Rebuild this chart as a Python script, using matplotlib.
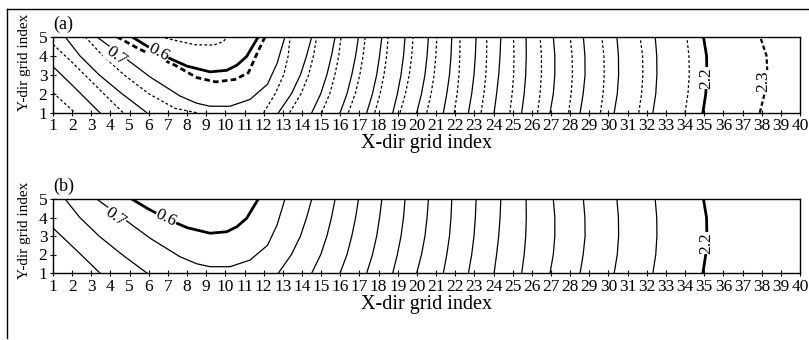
import numpy as np
import matplotlib
matplotlib.use("Agg")
import matplotlib.pyplot as plt
from matplotlib.lines import Line2D

plt.rcParams['font.family'] = ['Liberation Serif', 'DejaVu Serif']

# grid rows (Y-dir index) where the near-vertical contours are read
rows = [1, 2, 3, 4, 5]

# solid contours right of the trough: x crossing at y = 1..5
solid_levels = [0.8, 0.9, 1.0, 1.1, 1.2, 1.3, 1.4, 1.5, 1.6, 1.7, 1.8, 1.9, 2.0, 2.1, 2.2]
solid_x = [
    [12.77, 13.45, 13.92, 14.24, 14.51],
    [14.51, 14.98, 15.30, 15.54, 15.73],
    [15.99, 16.35, 16.60, 16.80, 16.95],
    [17.38, 17.68, 17.90, 18.05, 18.17],
    [18.74, 18.98, 19.17, 19.30, 19.38],
    [19.99, 20.24, 20.42, 20.53, 20.60],
    [21.38, 21.56, 21.70, 21.78, 21.82],
    [22.69, 22.86, 22.98, 23.05, 23.09],
    [24.03, 24.16, 24.27, 24.34, 24.38],
    [25.47, 25.60, 25.68, 25.71, 25.70],
    [26.95, 27.12, 27.20, 27.20, 27.12],
    [28.52, 28.68, 28.78, 28.77, 28.69],
    [30.30, 30.46, 30.53, 30.52, 30.44],
    [32.32, 32.47, 32.53, 32.52, 32.44],
    [34.93, 35.08, 35.14, 35.12, 34.96],
]

# solid contours on the left / trough (x, y point lists)
solid_09_x = [1.0, 2.0, 2.8, 3.45]
solid_09_y = [3.43, 2.45, 1.65, 1.0]
solid_08_x = [1.63, 2.4, 3.4, 4.6, 5.9]
solid_08_y = [5.0, 4.0, 3.0, 2.0, 1.0]
solid_07_x = [3.28, 4.6, 6.07, 7.63, 8.5, 9.2, 10.24, 11.29, 12.2, 12.7, 13.11]
solid_07_y = [5.0, 4.0, 2.88, 1.88, 1.5, 1.34, 1.34, 1.7, 2.5, 3.6, 5.0]
solid_06_x = [5.11, 6.0, 7.0, 8.0, 9.2, 10.07, 10.6, 11.11, 11.72]
solid_06_y = [5.0, 4.45, 3.9, 3.45, 3.15, 3.23, 3.5, 3.96, 5.0]

# dashed contours of panel (a), right part: x crossing at y = 1..5
dashed_levels = [0.8, 0.9, 1.0, 1.1, 1.2, 1.3, 1.4, 1.5, 1.6, 1.7, 1.8, 1.9, 2.0, 2.1, 2.2, 2.3]
dashed_x = [
    [12.00, 12.60, 13.05, 13.28, 13.38],
    [13.35, 13.95, 14.35, 14.60, 14.77],
    [15.03, 15.45, 15.72, 15.92, 16.04],
    [16.42, 16.78, 17.02, 17.19, 17.30],
    [17.80, 18.08, 18.28, 18.42, 18.50],
    [19.12, 19.40, 19.60, 19.73, 19.80],
    [20.51, 20.74, 20.90, 20.99, 21.04],
    [21.95, 22.10, 22.20, 22.24, 22.25],
    [23.35, 23.50, 23.60, 23.64, 23.65],
    [24.85, 24.97, 25.05, 25.07, 25.04],
    [26.30, 26.43, 26.50, 26.50, 26.43],
    [27.92, 28.05, 28.12, 28.10, 28.00],
    [29.58, 29.72, 29.78, 29.76, 29.65],
    [31.58, 31.73, 31.80, 31.78, 31.65],
    [34.00, 34.15, 34.22, 34.20, 34.09],
    [37.90, 38.15, 38.30, 38.25, 37.92],
]

# dashed contours of panel (a), left part
dashed_10_x = [1.0, 2.15]
dashed_10_y = [2.05, 1.0]
dashed_09_x = [1.0, 2.0, 3.0, 3.9, 4.66]
dashed_09_y = [4.6, 3.65, 2.65, 1.75, 1.0]
dashed_08_x = [2.67, 3.6, 4.7, 6.0, 7.37, 8.5]
dashed_08_y = [5.0, 4.0, 3.0, 2.0, 1.23, 1.0]
dashed_07_x = [4.33, 5.5, 7.37, 8.5, 9.5, 10.5, 11.2, 11.6, 12.07]
dashed_07_y = [5.0, 4.35, 3.5, 2.85, 2.62, 2.75, 3.1, 4.0, 5.0]
dashed_06_x = [6.6, 7.4, 8.4, 9.4, 9.9, 10.1]
dashed_06_y = [5.0, 4.8, 4.58, 4.56, 4.75, 5.0]

xticks = list(range(1, 41))
yticks = [1, 2, 3, 4, 5]

W, H = 809, 340
fig = plt.figure(figsize=(W / 100, H / 100), dpi=100)
ax_a = fig.add_axes([53 / W, 1 - 112.7 / H, 747 / W, 76 / H])
ax_b = fig.add_axes([53 / W, 1 - 273 / H, 747 / W, 74 / H])

thin = 0.9
bold = 2.0
dash = (0, (2.2, 1.8))


def draw_solid(ax):
    ax.plot(solid_09_x, solid_09_y, 'k-', lw=thin)
    ax.plot(solid_08_x, solid_08_y, 'k-', lw=thin)
    ax.plot(solid_07_x, solid_07_y, 'k-', lw=thin)
    ax.plot(solid_06_x, solid_06_y, 'k-', lw=bold)
    for lev, xs in zip(solid_levels, solid_x):
        ax.plot(xs, rows, 'k-', lw=bold if lev == 2.2 else thin)


def draw_dashed(ax):
    ax.plot(dashed_10_x, dashed_10_y, 'k', ls=dash, lw=thin)
    ax.plot(dashed_09_x, dashed_09_y, 'k', ls=dash, lw=thin)
    ax.plot(dashed_08_x, dashed_08_y, 'k', ls=dash, lw=thin)
    ax.plot(dashed_07_x, dashed_07_y, 'k', ls=(0, (2.0, 1.2)), lw=bold)
    ax.plot(dashed_06_x, dashed_06_y, 'k', ls=dash, lw=thin)
    for lev, xs in zip(dashed_levels, dashed_x):
        if lev == 2.3:
            ax.plot(xs, rows, 'k', ls=(0, (2.0, 1.2)), lw=1.6)
        else:
            ax.plot(xs, rows, 'k', ls=dash, lw=thin)


def clab(ax, x, y, s, rot):
    ax.text(x, y, s, rotation=rot, ha='center', va='center', fontsize=12.5,
            rotation_mode='anchor', zorder=5,
            bbox=dict(fc='white', ec='none', pad=0.2))


draw_solid(ax_a)
draw_dashed(ax_a)
clab(ax_a, 4.29, 3.98, '0.7', -36)
clab(ax_a, 6.5, 4.15, '0.6', -28)
clab(ax_a, 35.13, 2.83, '2.2', 90)
clab(ax_a, 38.1, 2.65, '2.3', 90)

draw_solid(ax_b)
clab(ax_b, 4.24, 4.03, '0.7', -36)
clab(ax_b, 6.9, 3.95, '0.6', -26)
clab(ax_b, 35.1, 2.62, '2.2', 90)

for ax, tag, ylab_y in [(ax_a, '(a)', 0.66), (ax_b, '(b)', 0.57)]:
    ax.set_xlim(1, 40)
    ax.set_ylim(1, 5)
    ax.set_xticks(xticks)
    ax.set_yticks(yticks)
    ax.tick_params(direction='inout', length=5, width=0.8, labelsize=12.5, pad=1.5)
    for sp in ax.spines.values():
        sp.set_linewidth(1.0)
    ax.set_xlabel('X-dir grid index', fontsize=14.5, labelpad=0)
    ax.set_ylabel('Y-dir grid index', fontsize=11)
    ax.yaxis.set_label_coords(-0.030, ylab_y)
    ax.text(0.0, 1.05, tag, transform=ax.transAxes, ha='left', va='bottom', fontsize=13)

# scanned page frame (top and left edges)
fig.add_artist(Line2D([7 / W, 1.0], [1 - 9 / H, 1 - 9 / H], color='k', lw=1.0))
fig.add_artist(Line2D([7 / W, 7 / W], [1 - 9 / H, 1 - 338 / H], color='k', lw=1.0))

fig.savefig('out.png', dpi=100)
